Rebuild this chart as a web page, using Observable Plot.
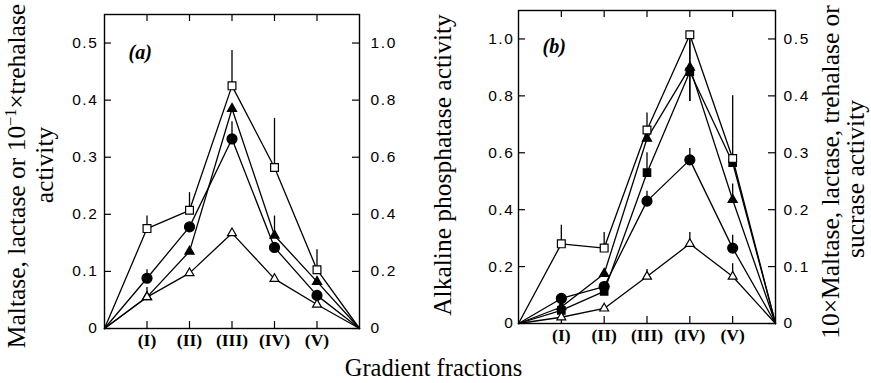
<!DOCTYPE html>
<html><head><meta charset="utf-8">
<script src="https://cdn.jsdelivr.net/npm/d3@7"></script>
<script src="https://cdn.jsdelivr.net/npm/@observablehq/plot@0.6"></script>
<style>
body{margin:0;background:#fff;}
#chart{position:relative;width:871px;height:383px;overflow:hidden;background:#fff;}
#chart svg{position:absolute;top:0;background:transparent;}
.lbl{position:absolute;white-space:nowrap;font-family:"Liberation Serif",serif;font-size:25.5px;line-height:1;color:#000;}
.rot{transform:translate(-50%,-50%) rotate(-90deg);}
.hor{transform:translate(-50%,0);font-size:24.5px;}
g[aria-label="y-axis tick label"] text{letter-spacing:1.6px;}
sup{font-size:16px;line-height:0;}
</style></head><body><div id="chart"></div>
<script>
// ---------- data ----------
const xPos = [1, 2, 3, 4, 5];
const categories = ["(I)", "(II)", "(III)", "(IV)", "(V)"];

// panel (a) — left-axis units
const aLeftTicks = [0, 0.1, 0.2, 0.3, 0.4, 0.5];
const aLeftLabels = ["0", "0.1", "0.2", "0.3", "0.4", "0.5"];
const aRightLabels = ["0", "0.2", "0.4", "0.6", "0.8", "1.0"];
const aOpenSquare = [0.175, 0.207, 0.425, 0.282, 0.103];
const aOpenSquareErr = [0.197, 0.238, 0.487, 0.368, 0.138];
const aFilledTriangle = [0.055, 0.135, 0.385, 0.163, 0.082];
const aFilledTriangleErr = [0.072, null, null, 0.197, null];
const aFilledCircle = [0.088, 0.178, 0.332, 0.142, 0.058];
const aFilledCircleErr = [0.103, null, 0.362, null, null];
const aOpenTriangle = [0.055, 0.097, 0.167, 0.087, 0.042];
const aOpenTriangleErr = [null, null, null, null, null];

// panel (b) — left-axis units
const bLeftTicks = [0, 0.2, 0.4, 0.6, 0.8, 1.0];
const bLeftLabels = ["0", "0.2", "0.4", "0.6", "0.8", "1.0"];
const bRightLabels = ["0", "0.1", "0.2", "0.3", "0.4", "0.5"];
const bOpenSquare = [0.28, 0.265, 0.68, 1.015, 0.58];
const bOpenSquareErr = [0.345, 0.32, 0.74, 0.78, 0.80];
const bFilledTriangle = [0.058, 0.175, 0.65, 0.90, 0.435];
const bFilledTriangleErr = [null, null, null, 0.995, 0.49];
const bFilledSquare = [0.046, 0.113, 0.53, 0.885, 0.565];
const bFilledSquareErr = [null, null, 0.60, 0.78, null];
const bFilledCircle = [0.088, 0.13, 0.43, 0.575, 0.265];
const bFilledCircleErr = [null, null, 0.465, 0.615, 0.31];
const bOpenTriangle = [0.022, 0.053, 0.165, 0.28, 0.165];
const bOpenTriangleErr = [null, null, 0.19, 0.32, 0.21];

// ---------- styles ----------
const sty = {
  openSquare: {symbol: "square", fill: "white", r: 4.4},
  filledSquare: {symbol: "square", fill: "black", r: 4.2},
  filledCircle: {symbol: "circle", fill: "black", r: 5},
  filledTriangle: {symbol: "triangle", fill: "black", r: 3.4},
  openTriangle: {symbol: "triangle", fill: "white", r: 3.3}
};

const seriesA = [
  {name: "os", values: aOpenSquare, err: aOpenSquareErr, ...sty.openSquare},
  {name: "ft", values: aFilledTriangle, err: aFilledTriangleErr, ...sty.filledTriangle},
  {name: "fc", values: aFilledCircle, err: aFilledCircleErr, ...sty.filledCircle},
  {name: "ot", values: aOpenTriangle, err: aOpenTriangleErr, ...sty.openTriangle}
];
const seriesB = [
  {name: "ft", values: bFilledTriangle, err: bFilledTriangleErr, ...sty.filledTriangle},
  {name: "fs", values: bFilledSquare, err: bFilledSquareErr, ...sty.filledSquare},
  {name: "fc", values: bFilledCircle, err: bFilledCircleErr, ...sty.filledCircle},
  {name: "ot", values: bOpenTriangle, err: bOpenTriangleErr, ...sty.openTriangle},
  {name: "os", values: bOpenSquare, err: bOpenSquareErr, ...sty.openSquare}
];

function panel({series, yMax, leftTicks, leftLabels, rightLabels, width, height, ml, mr, mt, mb, tag, padL, padR, tagDx, tagDy}) {
  const fw = width - ml - mr, fh = height - mt - mb, tl = 7;
  const lineData = [], errData = [];
  for (const s of series) {
    lineData.push({s: s.name, x: 0, y: 0});
    s.values.forEach((v, i) => {
      lineData.push({s: s.name, x: xPos[i], y: v});
      if (s.err[i] != null) errData.push({x: xPos[i], y1: v, y2: s.err[i]});
    });
    lineData.push({s: s.name, x: 6, y: 0});
  }
  const dots = series.map(s => Plot.dot(s.values.map((v, i) => ({x: xPos[i], y: v})), {
    x: "x", y: "y", symbol: s.symbol, r: s.r, fill: s.fill, stroke: "black", strokeWidth: 1.2
  }));
  const numFont = {fontFamily: "Liberation Sans", fontSize: 15.5};
  return Plot.plot({
    width, height, marginLeft: ml, marginRight: mr, marginTop: mt, marginBottom: mb,
    x: {domain: [0, 6], axis: null},
    y: {domain: [0, yMax], axis: null},
    style: {background: "transparent", overflow: "visible", color: "black"},
    marks: [
      Plot.frame({stroke: "black", strokeWidth: 1.4}),
      Plot.tickX(xPos, {x: d => d, insetTop: fh - tl, strokeWidth: 1.2}),
      Plot.tickX(xPos, {x: d => d, insetBottom: fh - tl, strokeWidth: 1.2}),
      Plot.tickY(leftTicks, {y: d => d, insetRight: fw - tl, strokeWidth: 1.2}),
      Plot.tickY(leftTicks, {y: d => d, insetLeft: fw - tl, strokeWidth: 1.2}),
      Plot.axisY(leftTicks, {anchor: "left", label: null, tickSize: 0, tickPadding: padL, tickFormat: d => leftLabels[leftTicks.indexOf(d)], ...numFont}),
      Plot.axisY(leftTicks, {anchor: "right", label: null, tickSize: 0, tickPadding: padR, tickFormat: d => rightLabels[leftTicks.indexOf(d)], ...numFont}),
      Plot.axisX(xPos, {anchor: "bottom", label: null, tickSize: 0, tickPadding: 5, tickFormat: d => categories[d - 1], fontFamily: "Liberation Serif", fontWeight: "bold", fontSize: 17.5}),
      Plot.ruleX(errData, {x: "x", y1: "y1", y2: "y2", strokeWidth: 1.3}),
      Plot.line(lineData, {x: "x", y: "y", z: "s", stroke: "black", strokeWidth: 1.3}),
      ...dots,
      Plot.text([tag], {text: d => d, frameAnchor: "top-left", textAnchor: "start", dx: tagDx, dy: tagDy, fontFamily: "Liberation Serif", fontStyle: "italic", fontWeight: "bold", fontSize: 20})
    ]
  });
}

const chart = document.getElementById("chart");
const pa = panel({series: seriesA, yMax: 0.55, leftTicks: aLeftTicks, leftLabels: aLeftLabels, rightLabels: aRightLabels,
  width: 470, height: 383, ml: 104, mr: 111, mt: 14, mb: 55, tag: "(a)", padL: 6, padR: 11, tagDx: 24, tagDy: 30});
pa.style.left = "0px";
chart.appendChild(pa);
const pb = panel({series: seriesB, yMax: 1.1, leftTicks: bLeftTicks, leftLabels: bLeftLabels, rightLabels: bRightLabels,
  width: 401, height: 383, ml: 48, mr: 96, mt: 10, mb: 60, tag: "(b)", padL: 4, padR: 8, tagDx: 24, tagDy: 28});
pb.style.left = "470px";
chart.appendChild(pb);

function label(html, cx, cy, cls) {
  const d = document.createElement("div");
  d.className = "lbl " + cls;
  d.innerHTML = html;
  d.style.left = cx + "px";
  d.style.top = cy + "px";
  chart.appendChild(d);
}
label("Maltase, lactase or 10<sup>−1</sup>×trehalase", 17, 176, "rot");
label("activity", 45, 165, "rot");
label("Alkaline phosphatase activity", 443, 165, "rot");
label("10×Maltase, lactase, trehalase or", 831, 172, "rot");
label("sucrase activity", 856, 179, "rot");
label("Gradient fractions", 433.5, 356, "hor");
</script></body></html>
